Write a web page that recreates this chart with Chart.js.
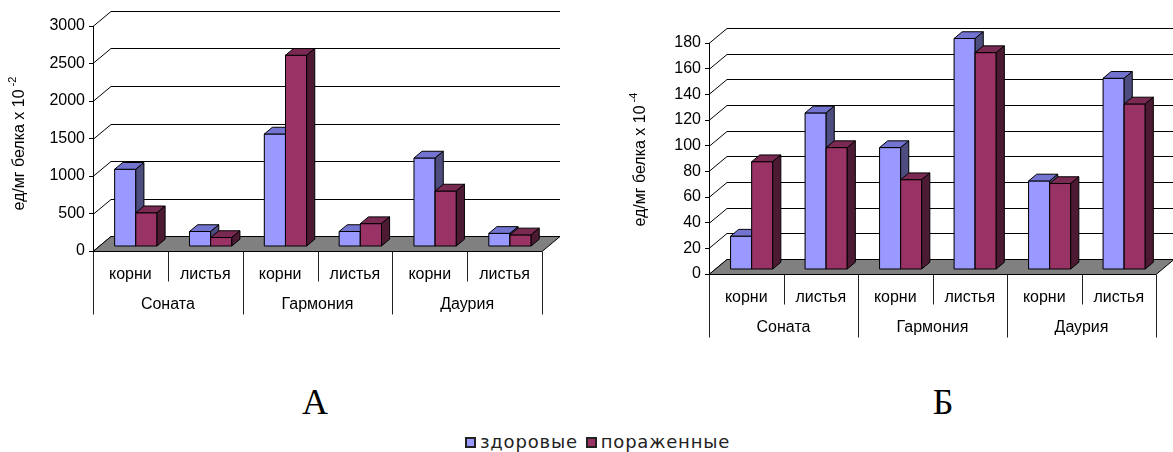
<!DOCTYPE html>
<html lang="ru">
<head>
  <meta charset="UTF-8">
  <title>Активность</title>
  <script src="https://cdn.jsdelivr.net/npm/chart.js@4"></script>
  <style>
    body { margin: 0; background: #fff; }
    #wrap { position: relative; width: 1173px; height: 452px; overflow: hidden; }
    canvas { position: absolute; top: 0; }
    .letter { position: absolute; top: 384px; width: 60px; text-align: center;
      font: 36px/36px "Liberation Serif", "Times New Roman", serif; color: #000; }
    .legend { position: absolute; left: 465px; top: 431px; height: 22px; display: flex; align-items: center;
      font: 18px/22px "DejaVu Sans", Verdana, sans-serif; letter-spacing: 0.8px; color: #222; }
    .legend .box { display: inline-block; width: 7px; height: 7px; border: 2px solid #222; margin-right: 4px; }
    .legend .item { display: flex; align-items: center; margin-right: 8px; }
  </style>
</head>
<body>
<div id="wrap">
  <canvas id="chartA" width="580" height="330" style="left:0"></canvas>
  <canvas id="chartB" width="553" height="350" style="left:620px"></canvas>
  <div class="letter" style="left:285px">А</div>
  <div class="letter" style="left:913px">Б</div>
  <div class="legend" id="legend"></div>
</div>

<script>
  // сорта и органы
  const groups = ['Соната', 'Гармония', 'Даурия'];
  const parts = ['корни', 'листья'];
  const seriesNames = ['здоровые', 'пораженные'];

  // А: ед/мг белка x 10^-2
  const healthyA = [1030, 200, 1500, 200, 1180, 175];
  const diseasedA = [450, 120, 2550, 305, 740, 155];
  const ticksA = { max: 3000, step: 500 };

  // Б: ед/мг белка x 10^-4
  const healthyB = [26, 122, 95, 180, 69, 149];
  const diseasedB = [84, 95, 70, 169, 67, 129];
  const ticksB = { max: 180, step: 20 };

  const labels = groups.flatMap(g => parts.map(p => p));

  const shades = [
    { front: '#9999ff', top: '#7373d0', side: '#4d4d80' },
    { front: '#993366', top: '#7a2952', side: '#4d1a33' }
  ];

  const FONT = "'Liberation Sans', Arial, sans-serif";
  Chart.defaults.font.family = FONT;
  Chart.defaults.font.size = 16;
  Chart.defaults.color = '#000';

  function face(ctx, pts, color) {
    ctx.beginPath();
    ctx.moveTo(pts[0][0], pts[0][1]);
    for (let i = 1; i < pts.length; i++) ctx.lineTo(pts[i][0], pts[i][1]);
    ctx.closePath();
    ctx.fillStyle = color;
    ctx.fill();
    ctx.stroke();
  }

  // excel-like 3d: walls, floor, extruded columns, two-level category axis
  const box3d = {
    id: 'box3d',
    beforeDatasetsDraw(chart, args, o) {
      const { ctx, chartArea: a, scales: { y } } = chart;
      ctx.save();
      ctx.strokeStyle = '#000';
      ctx.lineWidth = 1;
      y.ticks.forEach(t => {
        const py = Math.round(y.getPixelForValue(t.value)) + 0.5;
        ctx.beginPath();
        ctx.moveTo(a.left, py);
        ctx.lineTo(a.left + o.dx, py - o.dy);
        ctx.lineTo(a.right + o.dx, py - o.dy);
        ctx.stroke();
      });
      const b = Math.round(a.bottom) + 0.5;
      face(ctx, [[a.left, b], [a.right, b], [a.right + o.dx, b - o.dy], [a.left + o.dx, b - o.dy]], '#808080');
      ctx.restore();
      // columns stand in the middle of the floor depth
      ctx.save();
      ctx.translate(o.dx * 0.3, -o.dy * 0.3);
    },
    afterDatasetsDraw(chart, args, o) {
      const { ctx } = chart;
      ctx.restore();
      const bx = o.dx * 0.45, by = o.dy * 0.45;
      const metas = chart.getSortedVisibleDatasetMetas();
      ctx.save();
      ctx.translate(o.dx * 0.3, -o.dy * 0.3);
      ctx.lineWidth = 1;
      ctx.strokeStyle = '#000';
      ctx.lineJoin = 'round';
      for (let i = 0; i < chart.data.labels.length; i++) {
        metas.forEach(m => {
          const el = m.data[i];
          const p = el.getProps(['x', 'y', 'base', 'width'], true);
          const l = p.x - p.width / 2, r = p.x + p.width / 2, t = p.y, b = p.base;
          const c = shades[m.index];
          face(ctx, [[l, t], [r, t], [r, b], [l, b]], c.front);
          face(ctx, [[l, t], [r, t], [r + bx, t - by], [l + bx, t - by]], c.top);
          face(ctx, [[r, t], [r + bx, t - by], [r + bx, b - by], [r, b]], c.side);
        });
      }
      ctx.restore();
    },
    afterDraw(chart, args, o) {
      const { ctx, chartArea: a, scales: { x } } = chart;
      const n = chart.data.labels.length;
      const edges = [];
      for (let i = 0; i <= n; i++) {
        if (i === 0) edges.push(a.left);
        else if (i === n) edges.push(a.right);
        else edges.push((x.getPixelForValue(i - 1) + x.getPixelForValue(i)) / 2);
      }
      const top = Math.round(a.bottom) + 0.5;
      ctx.save();
      ctx.strokeStyle = '#222';
      ctx.lineWidth = 1;
      edges.forEach((ex, i) => {
        const px = Math.round(ex) + 0.5;
        ctx.beginPath();
        ctx.moveTo(px, top);
        ctx.lineTo(px, top + (i % parts.length === 0 ? 63 : 30));
        ctx.stroke();
      });
      ctx.fillStyle = '#000';
      ctx.font = '16px ' + FONT;
      ctx.textAlign = 'center';
      ctx.textBaseline = 'middle';
      groups.forEach((g, k) => {
        const cx = (edges[k * parts.length] + edges[(k + 1) * parts.length]) / 2;
        ctx.fillText(g, cx, top + 53);
      });
      // value axis title with superscript power
      ctx.translate(o.title.x, o.title.y);
      ctx.rotate(-Math.PI / 2);
      const w = ctx.measureText(o.title.text).width;
      ctx.fillText(o.title.text, 0, 0);
      ctx.font = '11px ' + FONT;
      ctx.textAlign = 'left';
      ctx.fillText(o.title.power, w / 2 + 3, -7);
      ctx.restore();
    }
  };

  function makeChart(id, healthy, diseased, ticks, pad, axisW, axisH, title) {
    return new Chart(document.getElementById(id), {
      type: 'bar',
      data: {
        labels: labels,
        datasets: [
          { label: seriesNames[0], data: healthy, backgroundColor: shades[0].front, borderColor: '#000', borderWidth: 1, clip: false },
          { label: seriesNames[1], data: diseased, backgroundColor: shades[1].front, borderColor: '#000', borderWidth: 1, clip: false }
        ]
      },
      options: {
        responsive: false,
        animation: false,
        devicePixelRatio: 1,
        categoryPercentage: 0.566,
        barPercentage: 1,
        layout: { padding: pad },
        plugins: {
          legend: { display: false },
          tooltip: { enabled: false },
          box3d: { dx: 18, dy: 15, title: title }
        },
        scales: {
          x: {
            grid: { display: false },
            border: { display: false },
            ticks: { padding: 6, maxRotation: 0, autoSkip: false, color: '#000' },
            afterFit: s => { s.height = axisH; }
          },
          y: {
            min: 0,
            max: ticks.max,
            grid: { drawOnChartArea: false, drawTicks: true, tickLength: 4, color: '#000' },
            border: { display: true, color: '#000' },
            ticks: { stepSize: ticks.step, padding: 4, color: '#000', callback: v => String(v) },
            afterFit: s => { s.width = axisW; }
          }
        }
      },
      plugins: [box3d]
    });
  }

  makeChart('chartA', healthyA, diseasedA, ticksA,
    { top: 26, right: 38, left: 0, bottom: 0 }, 93, 79,
    { text: 'ед/мг белка х 10', power: '-2', x: 20, y: 150 });

  makeChart('chartB', healthyB, diseasedB, ticksB,
    { top: 43, right: 17, left: 0, bottom: 0 }, 89, 76,
    { text: 'ед/мг белка х 10', power: '-4', x: 21, y: 166 });

  // общая легенда
  const legend = document.getElementById('legend');
  seriesNames.forEach((name, i) => {
    const item = document.createElement('span');
    item.className = 'item';
    const box = document.createElement('span');
    box.className = 'box';
    box.style.background = shades[i].front;
    item.appendChild(box);
    item.appendChild(document.createTextNode(name));
    legend.appendChild(item);
  });
</script>
</body>
</html>
